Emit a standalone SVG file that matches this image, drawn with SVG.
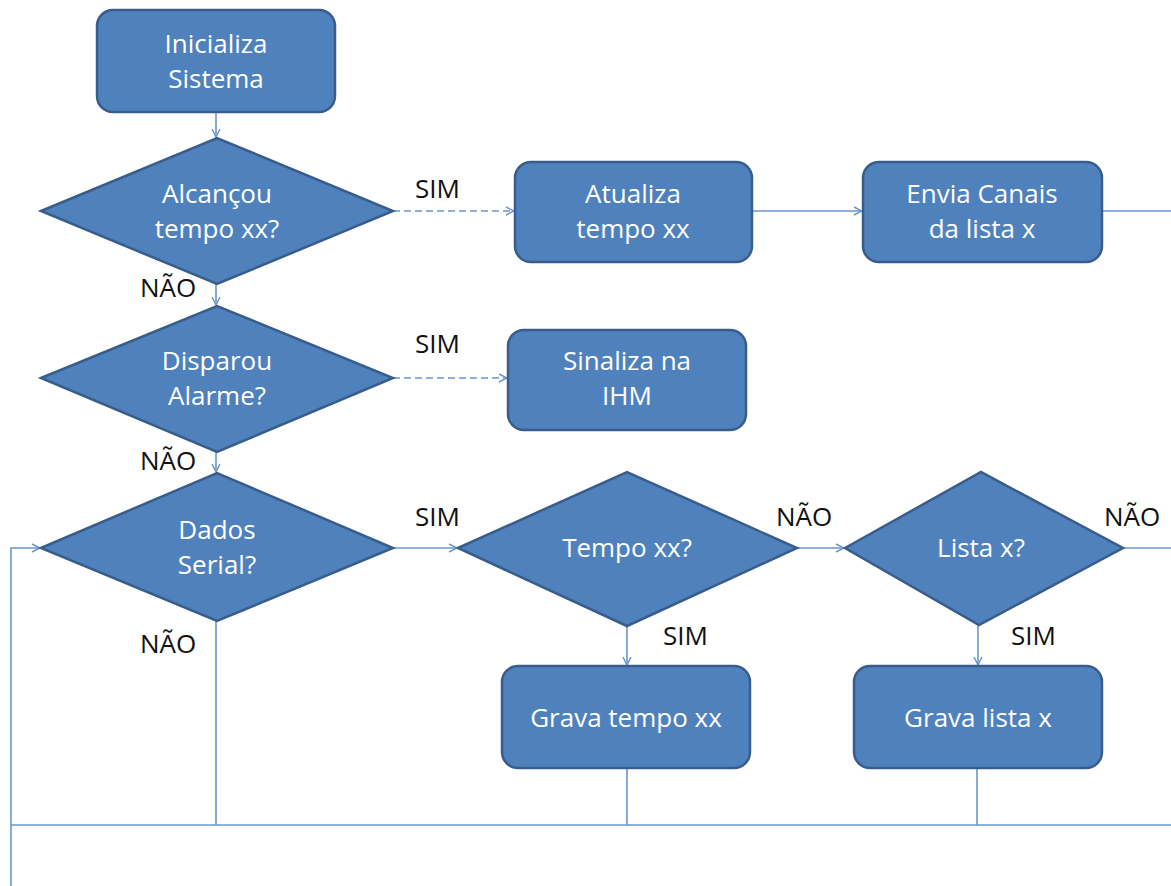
<svg xmlns="http://www.w3.org/2000/svg" width="1171" height="886" viewBox="0 0 1171 886">
<defs>
<marker id="arr" markerWidth="10" markerHeight="10" refX="9" refY="5" orient="auto" markerUnits="userSpaceOnUse">
<path d="M1,1 L9,5 L1,9" fill="none" stroke="#6A96CC" stroke-width="1.5"/>
</marker>
<style>
.box{fill:#4F81BD;stroke:#385D8A;stroke-width:2.5}
.t{font-family:"Open Sans","Liberation Sans",sans-serif;font-size:26px;font-weight:500;fill:#fff;text-anchor:middle}
.l{font-family:"Open Sans","Liberation Sans",sans-serif;font-size:26px;fill:#111}
.c{fill:none;stroke:#6A96CC;stroke-width:1.6}
.d{stroke-dasharray:7,4}
</style>
</defs>
<rect width="1171" height="886" fill="#fff"/>
<g id="connectors">
<line class="c" x1="216" y1="112" x2="216" y2="137" marker-end="url(#arr)"/>
<line class="c d" x1="393" y1="211" x2="514" y2="211" marker-end="url(#arr)"/>
<line class="c" x1="752" y1="211" x2="862" y2="211" marker-end="url(#arr)"/>
<line class="c" x1="1102" y1="211" x2="1171" y2="211"/>
<line class="c" x1="216" y1="284" x2="216" y2="305" marker-end="url(#arr)"/>
<line class="c d" x1="393" y1="378" x2="507" y2="378" marker-end="url(#arr)"/>
<line class="c" x1="216" y1="452" x2="216" y2="472" marker-end="url(#arr)"/>
<line class="c" x1="393" y1="548" x2="457" y2="548" marker-end="url(#arr)"/>
<line class="c" x1="797" y1="548" x2="844" y2="548" marker-end="url(#arr)"/>
<line class="c" x1="1123" y1="548" x2="1171" y2="548"/>
<line class="c" x1="627" y1="626" x2="627" y2="665" marker-end="url(#arr)"/>
<line class="c" x1="978" y1="625" x2="978" y2="665" marker-end="url(#arr)"/>
<line class="c" x1="216" y1="621" x2="216" y2="825"/>
<line class="c" x1="627" y1="768" x2="627" y2="825"/>
<line class="c" x1="977" y1="768" x2="977" y2="825"/>
<line class="c" x1="11" y1="825" x2="1171" y2="825" stroke-width="2.2"/>
<polyline class="c" points="11,886 11,548 40,548" marker-end="url(#arr)"/>
</g>
<g id="n_inicializa">
<rect class="box" x="97" y="10" width="238" height="102" rx="16"/>
<text class="t" x="216" y="53">Inicializa</text>
<text class="t" x="216" y="88">Sistema</text>
</g>
<g id="n_alcancou">
<polygon class="box" points="41,211 217,138 393,211 217,284"/>
<text class="t" x="217" y="203">Alcançou</text>
<text class="t" x="217" y="238">tempo xx?</text>
</g>
<g id="n_atualiza">
<rect class="box" x="515" y="162" width="237" height="100" rx="16"/>
<text class="t" x="633" y="203">Atualiza</text>
<text class="t" x="633" y="238">tempo xx</text>
</g>
<g id="n_envia">
<rect class="box" x="863" y="162" width="239" height="100" rx="16"/>
<text class="t" x="982" y="203">Envia Canais</text>
<text class="t" x="982" y="238">da lista x</text>
</g>
<g id="n_disparou">
<polygon class="box" points="41,378 217,306 393,378 217,452"/>
<text class="t" x="217" y="370">Disparou</text>
<text class="t" x="217" y="405">Alarme?</text>
</g>
<g id="n_sinaliza">
<rect class="box" x="508" y="330" width="238" height="100" rx="16"/>
<text class="t" x="627" y="370">Sinaliza na</text>
<text class="t" x="627" y="405">IHM</text>
</g>
<g id="n_dados">
<polygon class="box" points="41,548 217,473 393,548 217,621"/>
<text class="t" x="217" y="539">Dados</text>
<text class="t" x="217" y="574">Serial?</text>
</g>
<g id="n_tempo">
<polygon class="box" points="458,548 627,472 797,548 627,626"/>
<text class="t" x="627" y="557">Tempo xx?</text>
</g>
<g id="n_lista">
<polygon class="box" points="845,548 981,472 1123,548 979,625"/>
<text class="t" x="981" y="557">Lista x?</text>
</g>
<g id="n_gravatempo">
<rect class="box" x="502" y="666" width="248" height="102" rx="16"/>
<text class="t" x="626" y="727">Grava tempo xx</text>
</g>
<g id="n_gravalista">
<rect class="box" x="854" y="666" width="248" height="102" rx="16"/>
<text class="t" x="978" y="727">Grava lista x</text>
</g>
<g id="labels">
<text class="l" x="415" y="198">SIM</text>
<text class="l" x="140" y="297">NÃO</text>
<text class="l" x="415" y="353">SIM</text>
<text class="l" x="140" y="470">NÃO</text>
<text class="l" x="415" y="526">SIM</text>
<text class="l" x="776" y="526">NÃO</text>
<text class="l" x="1104" y="526">NÃO</text>
<text class="l" x="140" y="653">NÃO</text>
<text class="l" x="663" y="645">SIM</text>
<text class="l" x="1011" y="645">SIM</text>
</g>
</svg>
